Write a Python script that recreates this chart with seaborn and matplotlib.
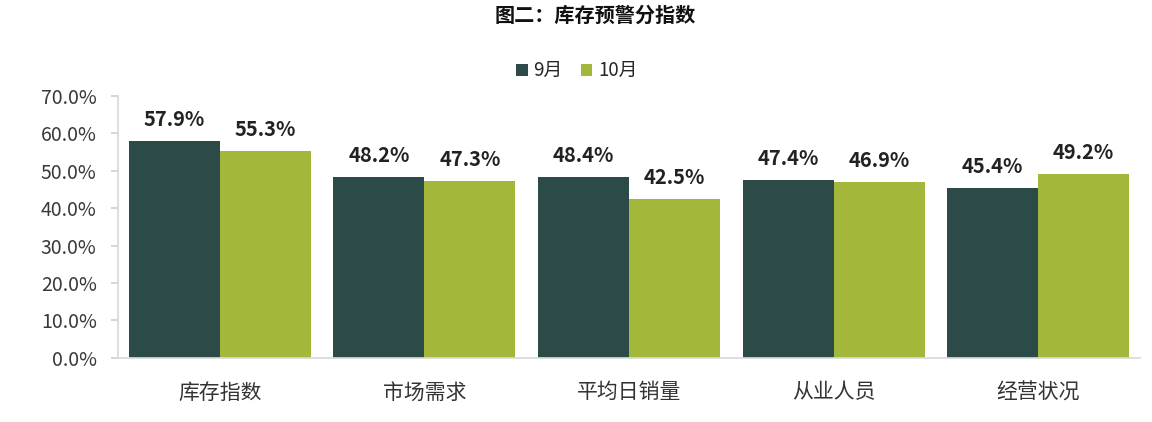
import pandas as pd
import numpy as np
import matplotlib
matplotlib.use("Agg")
import matplotlib.pyplot as plt
import seaborn as sns

# 数据
categories = ["库存指数", "市场需求", "平均日销量", "从业人员", "经营状况"]
sep_values = [57.9, 48.2, 48.4, 47.4, 45.4]
oct_values = [55.3, 47.3, 42.5, 46.9, 49.2]
months = ["9月", "10月"]

df = pd.DataFrame({
    "类别": categories * 2,
    "月份": [months[0]] * len(categories) + [months[1]] * len(categories),
    "值": sep_values + oct_values,
})

sns.set_theme(style="white")
plt.rcParams['font.family'] = ['Noto Sans CJK SC', 'DejaVu Sans']

fig = plt.figure(figsize=(11.52, 4.22), dpi=100)
ax = fig.add_axes([0.102, 0.152, 0.888, 0.621])

palette = {"9月": "#2C4A47", "10月": "#A3B83B"}
sns.barplot(data=df, x="类别", y="值", hue="月份", palette=palette,
            width=0.89, saturation=1, linewidth=0, ax=ax, legend=True)

# 数据标签
for container in ax.containers:
    ax.bar_label(container, labels=[f"{v:.1f}%" for v in container.datavalues],
                 padding=8, fontsize=14.5, fontweight="bold", color="#222222")

ax.set_ylim(0, 70)
ax.set_xlim(-0.5, 4.5)
ax.set_yticks(np.arange(0, 71, 10))
ax.set_yticklabels([f"{v:.1f}%" for v in np.arange(0, 71, 10)], fontsize=14, color="#3a3a3a")
ax.tick_params(axis="x", labelsize=15, colors="#333333", length=0, pad=17)
ax.tick_params(axis="y", left=True, length=5, color="#d0d0d0", pad=10)
ax.set_xlabel("")
ax.set_ylabel("")

for s in ["top", "right"]:
    ax.spines[s].set_visible(False)
ax.spines["left"].set_color("#d9d9d9")
ax.spines["bottom"].set_color("#d9d9d9")

ax.legend(loc="upper center", bbox_to_anchor=(0.449, 1.20), ncol=2, frameon=False,
          fontsize=13.5, handlelength=0.6, handleheight=0.6, handletextpad=0.3, columnspacing=1.0)
fig.text(0.517, 0.965, "图二：库存预警分指数", ha="center", va="center",
         fontsize=14.5, fontweight="bold", color="#111111")

fig.savefig("out.png", dpi=100)
